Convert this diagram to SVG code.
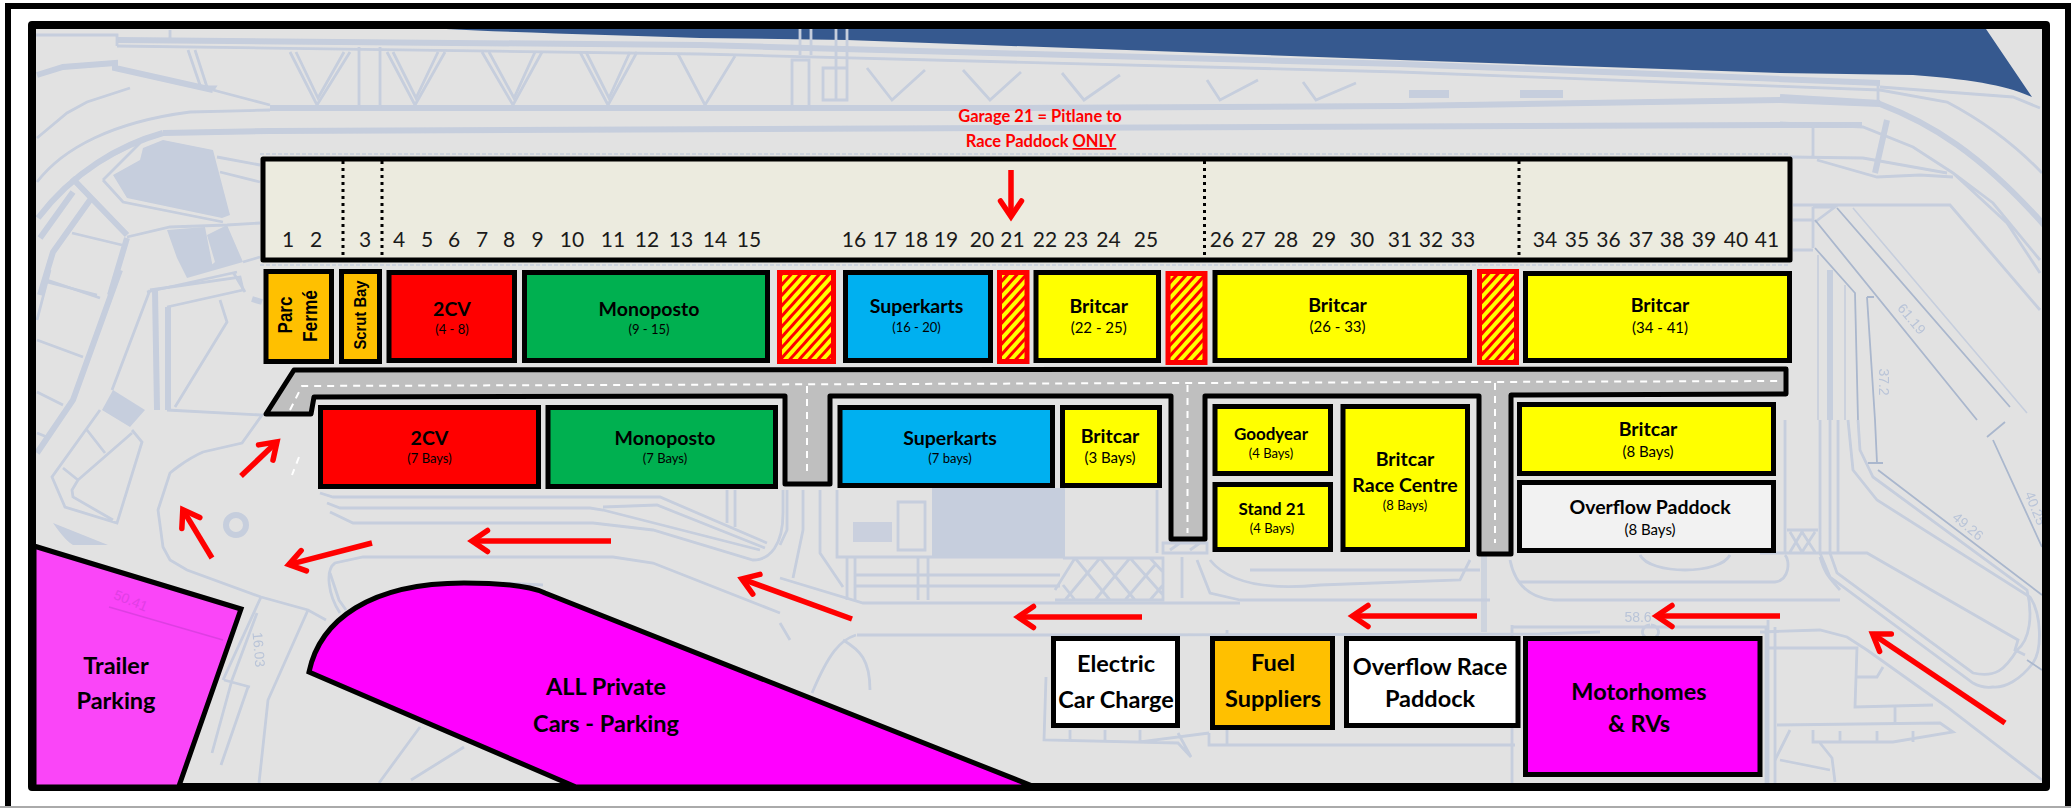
<svg xmlns="http://www.w3.org/2000/svg" width="2071" height="808" viewBox="0 0 2071 808">
<style>
.n{stroke:#000;stroke-width:5}
.t{font-family:Lato,"Liberation Sans",sans-serif;font-weight:700;fill:#000;text-anchor:middle}
.v{font-family:"Liberation Sans",Arial,sans-serif;font-weight:700;fill:#000;text-anchor:middle}
.l{font-size:19.5px}.s{font-size:13px;font-weight:400}.m{font-size:15px;font-weight:400}
.b{font-size:23.5px}.g{font-size:17px}
.num{font-family:Lato,"Liberation Sans",sans-serif;font-size:21px;fill:#1a1a1a;text-anchor:middle}
.red{font-family:Lato,"Liberation Sans",sans-serif;font-size:16.500px;font-weight:700;fill:#f00;text-anchor:middle}
.bp{fill:none;stroke:#c6cedd;stroke-width:2.800}
.bk{fill:none;stroke:#c6cedd;stroke-width:6}
.bt{fill:none;stroke:#c6cedd;stroke-width:1.600}
.bd{fill:none;stroke:#aab7cd;stroke-width:1.800}
.bf{fill:#c6cedd}
.dim{font-family:"Liberation Sans",Arial,sans-serif;font-size:14px;fill:#b9c4d8;text-anchor:middle}
.arr{fill:none;stroke:#f00;stroke-width:5.500;marker-end:url(#chev)}
.dot{stroke:#000;stroke-width:3;stroke-dasharray:3 4}
.dash{fill:none;stroke:#fff;stroke-width:2;stroke-dasharray:7 6}
.h{fill:url(#hatch);stroke:#f00;stroke-width:5}
</style>
<defs>
<pattern id="hatch" width="7" height="7" patternUnits="userSpaceOnUse" patternTransform="rotate(42)">
<rect width="7" height="7" fill="#ffff00"/><rect width="3" height="7" fill="#f00"/>
</pattern>
<marker id="chev" markerUnits="userSpaceOnUse" markerWidth="44" markerHeight="44" refX="30" refY="22" orient="auto" overflow="visible">
<path d="M14.500,11.500 L30,22 L14.500,32.500" fill="none" stroke="#f00" stroke-width="5.500" stroke-linecap="round"/>
</marker>
<filter id="soft" x="0" y="0" width="1" height="1"><feGaussianBlur stdDeviation="0.600"/></filter>
</defs>
<rect width="2071" height="808" fill="#fff"/>
<g id="frame-outer"><path d="M8,808 V6 H2068 V808" fill="none" stroke="#000" stroke-width="6"/><path d="M0,807 H2071" stroke="#aaa" stroke-width="2"/></g>
<g id="site-plan">
<rect x="32" y="25" width="2014" height="762" fill="#e2e2e2"/>
<path d="M446,29 H1986 L2032,97 C2010,87 1980,80 1913,75 L1780,73 L1400,60 L847,40 L700,38 C620,35 520,33 446,29Z" fill="#36598f"/>
<g filter="url(#soft)">
<path class="bk" d="M117,40 L700,45 L1400,64 L1880,83"/>
<path class="bp" d="M117,46 L700,54 L1400,72 L1880,90 L1947,102 C1987,123 2020,150 2042,173"/>
<path class="bp" d="M36,35 H117 V46 M170,30 V38 M1880,87 L2013,97 L2040,108"/>
<path class="bk" d="M270,108 L1000,108 L1400,106 L1780,100 L1880,104 C1930,123 1980,153 2044,225" stroke-width="8"/>
<path class="bk" d="M37,75 L63,67 L115,63 L115,68 L213,90" />
<path class="bp" d="M213,90 L270,105 M195,50 L207,87 H215 L213,90 M188,50 L201,88"/>
<path class="bp" d="M37,138 L67,113 L87,102 L130,88"/>
<path class="bp" d="M37,182 C63,148 113,122 190,112 L270,110"/>
<path class="bk" d="M163,133 C120,145 73,172 38,218" stroke-width="4"/>
<path class="bk" d="M163,133 L270,131 L1000,128 L1780,125 L1862,125" stroke-width="4.500"/>
<path class="bp" d="M217,157 L260,165 M220,172 L260,182 M103,180 L140,143 M103,180 L123,202 L223,222"/>
<path class="bk" d="M72,178 L127,235 M90,200 L53,252 L40,295" stroke-width="4"/>
<path class="bk" d="M73,192 L40,238" stroke-width="4"/>
<path class="bp" d="M72,233 L122,245 M47,282 L97,295 M127,237 L170,227 L227,225 L260,223"/>
<path class="bk" d="M127,238 L110,295 M120,270 L73,400 L37,453" stroke-width="5"/>
<path class="bp" d="M233,272 L245,292 M147,292 L237,272 M243,262 L260,257"/>
<path class="bp" d="M50,270 L37,320 M47,280 L100,298 M37,340 L83,357 M37,392 L63,405 M37,433 L47,437"/>
<path class="bp" d="M150,290 L240,277 L243,290 L167,307 M150,290 L112,390"/>
<path class="bk" d="M155,290 L157,410 M168,307 V410" stroke-width="5"/>
<path class="bp" d="M220,300 L227,322 L175,407 M167,410 L262,415 L242,443 L203,452 C185,460 170,473 170,473 L158,510 L163,547 L170,560 L187,570 L261,597 L308,610 L326,620"/>
<path class="bk" d="M252,299 L262,302"/>
<path class="bp" d="M100,410 L52,477 L65,507 L117,523 L142,442 L132,430 M87,430 L105,453 M63,468 L78,480 L132,433 M78,480 L72,490 L73,497 L113,520"/>
<ellipse cx="236" cy="525" rx="10" ry="10" class="bk" stroke-width="4"/>
<path class="bp" d="M261,597 L223,680 M308,610 L268,700 L259,783 M257,613 L232,680 L212,753 M248,687 L221,765 M224,680 L250,687 M379,783 L420,727 M411,780 L464,747 M330,573 L339,600 L346,610"/>
<path class="bp" d="M320,493 L333,497 H660 L767,543 M327,503 L340,508 H590 L603,510 L760,550 M603,507 L657,505 L765,548 M330,512 L353,523 H593 L653,530 L753,560 C770,560 783,545 783,513 V490"/>
<path class="bp" d="M340,613 C328,595 325,570 335,563 L363,557 H613 L653,563 L780,613 M727,490 V523 M735,490 V527 M503,583 L543,585"/>
<path class="bp" d="M820,490 V553 L843,587 M787,490 V530 L780,545 M803,490 V530 L793,578 M780,578 L863,603 H1240"/>
<path class="bp" d="M837,490 V557 H1063 M847,557 V600 M855,557 V600 M918,557 V600 M928,557 V600 M855,575 H1060 M855,586 H1060 M898,502 H925 V550 H898Z"/>
<path class="bp" d="M1063,558 H1163 V600 H1055 M1075,558 L1110,600 M1100,558 L1135,600 M1130,558 L1163,595 M1150,558 L1163,572 M1063,585 L1075,600 M1100,558 L1065,600 M1130,558 L1095,600 M1155,565 L1125,600 M1163,585 L1150,600 M1075,558 L1055,590"/>
<path class="bp" d="M1157,490 V553 M1163,543 H1207 V553 H1163Z M1170,550 L1180,543 M1190,550 L1200,543 M1182,557 V598 M1197,560 L1210,593 L1240,600"/>
<path class="bp" d="M780,623 L790,640 M843,640 C860,650 870,660 870,690 M857,635 H1090 L1540,634 L1600,632 M856,635 C840,640 829,653 812,693 M1046,677 L1044,740 L1178,743 L1191,757 L1178,733 M1070,730 V740 M1105,730 V742 M1140,730 V742 L1209,733 M1209,733 V745 H1515 M1227,630 V745 M1060,690 L1100,700"/>
<path class="bp" d="M1210,560 C1230,585 1270,590 1320,585 L1460,580 L1470,560 M1250,570 H1480 M1510,560 C1515,585 1530,598 1554,600 H1840 M1520,582 H1775 C1790,580 1790,560 1785,555 M1640,555 C1650,575 1720,575 1730,555 M1240,600 H1490"/>
<path class="bk" d="M1484,556 V632" stroke-width="10" opacity=".7"/>
<path class="bp" d="M1512,625 V785 M1512,627 H1766 V785 M1775,627 V785 M1512,785 H1530 M1650,625 A8,7 0 1,0 1651,625"/>
<path class="bp" d="M1785,420 V553 M1820,420 V553 M1830,420 V553 M1838,420 V553 M1787,530 H1818 M1790,552 L1802,532 L1815,552 M1790,532 L1802,552 L1815,532 M1760,553 H1867 L2018,640 L2015,650 L2025,655 M1820,557 C1825,575 1830,578 1840,590"/>
<path class="bp" d="M1848,420 L1853,470 L1877,500 L2030,597 C2042,615 2042,650 2033,663 C2020,680 2005,688 1993,687 C1985,688 1978,686 1973,683 L1830,577 L1820,553"/>
<path class="bp" d="M1858,420 L1860,450 L1873,477 L2027,590 C2033,615 2030,640 2017,650 C2005,670 1995,678 1973,673 L1837,573 L1830,553"/>
<path class="bd" d="M1875,420 L1877,463 M1868,463 H1883 M1878,470 L2042,595 M1993,440 L2042,547 M1987,437 L2005,422 M2027,660 L2042,670"/>
<path class="bp" d="M1760,632 L1820,630 L1847,637 L1867,650 L1947,707 L2042,780 M1767,648 H1857 L1855,707 L1933,705 M1857,677 H1877 L1883,667 M1895,707 V723 M1777,725 L1940,723 L1953,732 L1893,742 H1813 V730 M1840,731 V742 M1877,731 V742 M1913,731 V742 M1780,760 L1830,770 M1790,730 L1775,760 M1820,743 L1832,758 L1835,782 M1768,620 V785"/>
<path class="bk" d="M1780,97 L1880,103" stroke-width="8"/>
<path class="bp" d="M1780,123 L1863,127 L1913,147 L1953,173 L1993,203 L2040,260 M1953,173 L2007,223 L2040,273 M1878,80 V103 M1813,123 V157 M1790,157 L1863,158 L1947,173 M1817,160 L1877,177 L1920,175 L1953,177 M1793,205 H1950 L2040,310 M1793,220 H1813 M1793,250 H1813 M1813,207 H1835 L1815,222 M1813,207 V248"/>
<path class="bk" d="M1887,120 L1875,173" stroke-width="5"/>
<path class="bd" d="M1837,208 L2010,407 M1815,220 L1977,420 M1815,248 L1855,293 L1858,420 M1867,297 L1875,420 M1867,297 H1874"/>
<path class="bt" d="M1853,208 L2027,413 M1818,255 V420 M1845,285 V420"/>
<path class="bk" d="M1830,270 V420" stroke-width="4"/>
<path class="bp" d="M290,52 L317,105 L350,52 M387,52 L415,105 L445,52 M482,52 L513,105 L542,52 M580,52 L608,105 L637,52 M678,54 L705,105 L735,56"/>
<path class="bp" d="M867,68 L892,100 L925,70 M963,70 L990,100 L1021,72 M1062,73 L1084,100 L1120,75 M1207,80 L1220,100 L1258,80 M1303,82 L1316,100 L1356,83"/>
<path class="bp" d="M296,52 L318,98 L344,52 M393,52 L416,98 L438,52 M489,52 L514,98 L535,52 M586,52 L609,98 L630,52"/>
<path class="bp" d="M359,47 V108 M380,47 V108 M792,60 H809 V108 H792Z M823,68 H847 V100 H823Z M800,29 V55 M811,29 V55 M836,29 V100 M847,29 V100"/>
<path class="bt" d="M260,154 H1790 M260,265 H1790" stroke-width="3" stroke-dasharray="4 2"/>
<path class="bf" d="M1409,90 H1449 V98 H1409Z M1520,90 H1563 V98 H1520Z"/>
<path class="bf" d="M113,175 L140,160 L143,148 L163,140 L213,150 L230,215 L222,218 L127,198Z"/>
<path class="bf" d="M167,230 L205,227 L213,268 L206,270 L215,262 L207,235 L227,225 L243,262 L187,278 L177,258Z"/>
<path class="bf" d="M932,488 H1065 V558 H932Z"/>
<path class="bf" d="M853,522 H892 V542 H853Z" opacity=".85"/>
<path class="bf" d="M113,390 L145,410 L130,427 L102,410Z"/>
<path class="bf" d="M53,523 L108,545 L73,545 C65,540 58,530 53,523Z"/>
<text class="dim" transform="translate(1908 322) rotate(50)">61.19</text>
<text class="dim" transform="translate(1879 382) rotate(90)">37.2</text>
<text class="dim" transform="translate(1965 530) rotate(40)">49.26</text>
<text class="dim" transform="translate(2031 510) rotate(68)">40.25</text>
<text class="dim" transform="translate(254 650) rotate(85)">16.03</text>
<text class="dim" x="1638" y="622">58.6</text>
</g>
</g>
<g id="frame-inner"><rect x="32" y="25" width="2014" height="762" fill="none" stroke="#000" stroke-width="8" stroke-linejoin="round"/></g>
<g id="garage-strip">
<rect x="263" y="159" width="1527" height="101" fill="#ecebdf" stroke="#000" stroke-width="5" stroke-linejoin="round"/>
<path class="dot" d="M343,161 V258 M382,161 V258 M1204.500,161 V258 M1519,161 V258"/>
<g class="num">
<text x="288" y="247">1</text><text x="316" y="247">2</text><text x="365" y="247">3</text><text x="399" y="247">4</text><text x="427" y="247">5</text><text x="454" y="247">6</text><text x="482" y="247">7</text><text x="509" y="247">8</text><text x="537.500" y="247">9</text><text x="572" y="247">10</text><text x="613" y="247">11</text><text x="647" y="247">12</text><text x="681" y="247">13</text><text x="715" y="247">14</text><text x="749" y="247">15</text><text x="854" y="247">16</text><text x="885" y="247">17</text><text x="916" y="247">18</text><text x="946" y="247">19</text><text x="982" y="247">20</text><text x="1012.500" y="247">21</text><text x="1045" y="247">22</text><text x="1076" y="247">23</text><text x="1108.500" y="247">24</text><text x="1146" y="247">25</text><text x="1222" y="247">26</text><text x="1253.500" y="247">27</text><text x="1286" y="247">28</text><text x="1324" y="247">29</text><text x="1362" y="247">30</text><text x="1400" y="247">31</text><text x="1431" y="247">32</text><text x="1463" y="247">33</text><text x="1545" y="247">34</text><text x="1577" y="247">35</text><text x="1608.500" y="247">36</text><text x="1641" y="247">37</text><text x="1672" y="247">38</text><text x="1704" y="247">39</text><text x="1736" y="247">40</text><text x="1767" y="247">41</text>
</g>
</g>
<g id="garage-note">
<text class="red" x="1040" y="122">Garage 21 = Pitlane to</text>
<text class="red" x="1041" y="147">Race Paddock <tspan text-decoration="underline">ONLY</tspan></text>
</g>
<g id="access-road">
<path d="M294,370 L1786,369 V394 L1511,395 V554 H1479 V396 H1205 V539 H1171 V396 H830 V484 H785 V396 L314,397 L311,414 L266,414Z" fill="#bfbfbf" stroke="#000" stroke-width="5" stroke-linejoin="round"/>
<path class="dash" d="M290,410 L302,386 L1782,381 M807,386 V477 M1187.500,385 V533 M1495,383 V543 M299,457 L292,475"/>
</g>
<g id="parc-ferme"><rect x="266" y="271.500" width="65.500" height="90" fill="#ffc000" class="n"/><text class="v" style="font-size:20.500px" textLength="37" lengthAdjust="spacingAndGlyphs" transform="translate(292 315) rotate(-90)">Parc</text><text class="v" style="font-size:20.500px" textLength="52" lengthAdjust="spacingAndGlyphs" transform="translate(317 316) rotate(-90)">Fermé</text></g>
<g id="scrut-bay"><rect x="341.500" y="271.500" width="38" height="90" fill="#ffc000" class="n"/><text class="v" style="font-size:17px" textLength="69" lengthAdjust="spacingAndGlyphs" transform="translate(366 315) rotate(-90)">Scrut Bay</text></g>
<g id="cv-top"><rect x="389" y="272.500" width="125.500" height="88" fill="#f00" class="n"/><text class="t l" x="452" y="316">2CV</text><text class="t s" x="452" y="334">(4 - 8)</text></g>
<g id="mono-top"><rect x="524.500" y="272.500" width="243" height="88" fill="#00b050" class="n"/><text class="t l" x="649" y="316">Monoposto</text><text class="t s" x="649" y="334">(9 - 15)</text></g>
<g id="closed-1"><rect x="779.500" y="272.500" width="54" height="89" class="h"/></g>
<g id="super-top"><rect x="845.500" y="272.500" width="145" height="88" fill="#00b0f0" class="n"/><text class="t l" x="916.500" y="313">Superkarts</text><text class="t s" x="916.500" y="332">(16 - 20)</text></g>
<g id="closed-2"><rect x="999.500" y="272.500" width="27.500" height="89" class="h"/></g>
<g id="brit-22"><rect x="1036" y="272.500" width="122.500" height="88" fill="#ff0" class="n"/><text class="t l" x="1098.700" y="313">Britcar</text><text class="t m" x="1098.700" y="333">(22 - 25)</text></g>
<g id="closed-3"><rect x="1168" y="273.500" width="37" height="89" class="h"/></g>
<g id="brit-26"><rect x="1215" y="272.500" width="254.500" height="88" fill="#ff0" class="n"/><text class="t l" x="1337.500" y="312">Britcar</text><text class="t m" x="1337.500" y="332">(26 - 33)</text></g>
<g id="closed-4"><rect x="1479.500" y="271.500" width="37" height="91" class="h"/></g>
<g id="brit-34"><rect x="1525.500" y="273.500" width="264" height="87" fill="#ff0" class="n"/><text class="t l" x="1660" y="312">Britcar</text><text class="t m" x="1660" y="332.500">(34 - 41)</text></g>
<g id="cv-low"><rect x="320.500" y="407.500" width="218" height="79" fill="#f00" class="n"/><text class="t l" x="429.500" y="445">2CV</text><text class="t s" x="429.500" y="463">(7 Bays)</text></g>
<g id="mono-low"><rect x="548" y="407.500" width="227.500" height="79" fill="#00b050" class="n"/><text class="t l" x="665" y="445">Monoposto</text><text class="t s" x="665" y="463">(7 Bays)</text></g>
<g id="super-low"><rect x="840" y="407.500" width="212.500" height="78" fill="#00b0f0" class="n"/><text class="t l" x="950" y="445">Superkarts</text><text class="t s" x="950" y="463">(7 bays)</text></g>
<g id="brit-3"><rect x="1062.500" y="407.500" width="97" height="78" fill="#ff0" class="n"/><text class="t l" x="1110" y="443">Britcar</text><text class="t m" x="1110" y="463">(3 Bays)</text></g>
<g id="goodyear"><rect x="1215" y="406.500" width="115.500" height="67" fill="#ff0" class="n"/><text class="t g" x="1271" y="440">Goodyear</text><text class="t s" x="1271" y="458">(4 Bays)</text></g>
<g id="stand-21"><rect x="1215" y="484.500" width="115.500" height="65" fill="#ff0" class="n"/><text class="t g" x="1272" y="515">Stand 21</text><text class="t s" x="1272" y="533">(4 Bays)</text></g>
<g id="race-centre"><rect x="1343" y="406.500" width="124.500" height="143" fill="#ff0" class="n"/><text class="t l" x="1405" y="466">Britcar</text><text class="t l" x="1405" y="492">Race Centre</text><text class="t s" x="1405" y="510">(8 Bays)</text></g>
<g id="brit-8"><rect x="1519.500" y="404.500" width="254" height="69" fill="#ff0" class="n"/><text class="t l" x="1648" y="436">Britcar</text><text class="t m" x="1648" y="457">(8 Bays)</text></g>
<g id="overflow-paddock"><rect x="1519.500" y="482.500" width="254" height="68" fill="#f2f2f2" class="n"/><text class="t l" x="1650" y="514">Overflow Paddock</text><text class="t m" x="1650" y="535">(8 Bays)</text></g>
<g id="electric"><rect x="1053.500" y="638.500" width="124" height="87" fill="#fff" class="n"/><text class="t b" x="1116" y="672">Electric</text><text class="t b" x="1116" y="708">Car Charge</text></g>
<g id="fuel"><rect x="1212.500" y="638.500" width="120" height="89" fill="#ffc000" class="n"/><text class="t b" x="1273" y="671">Fuel</text><text class="t b" x="1273" y="707">Suppliers</text></g>
<g id="overflow-race"><rect x="1346.500" y="638.500" width="171.500" height="87" fill="#fff" class="n"/><text class="t b" x="1430" y="675">Overflow Race</text><text class="t b" x="1430" y="707">Paddock</text></g>
<g id="motorhomes"><rect x="1525.500" y="638.500" width="234.500" height="136" fill="#f0f" class="n"/><text class="t b" x="1639" y="700">Motorhomes</text><text class="t b" x="1639" y="732">&amp; RVs</text></g>
<g id="trailer"><path d="M34,546 L241,609 L178.600,787 H34Z" fill="#fa45f8" class="n"/><path d="M109,607 L223,640" stroke="#dd3fe2" stroke-width="1.500"/><text x="129" y="605" transform="rotate(22 129 605)" style="font:14px 'Liberation Sans',sans-serif;fill:#e03ee4;text-anchor:middle">50.41</text><text class="t b" x="116" y="674">Trailer</text><text class="t b" x="116" y="709">Parking</text></g>
<g id="private-cars"><path d="M309,672 C320,620 370,583 464,583 C500,583 530,586 545,593 L1035,787 H576Z" fill="#f0f" class="n"/><text class="t b" x="606" y="695">ALL Private</text><text class="t b" x="606" y="732">Cars - Parking</text></g>
<g id="connectors">
<path class="arr" d="M1011,170 V216.500"/>
<path class="arr" d="M241,476 L277,441.800"/>
<path class="arr" d="M212,558 L182.800,509.700"/>
<path class="arr" d="M372,543 L288.800,564.600"/>
<path class="arr" d="M611,541 H472"/>
<path class="arr" d="M852,619 L741.800,578.900"/>
<path class="arr" d="M1142,617 H1018"/>
<path class="arr" d="M1477,616 H1352.500"/>
<path class="arr" d="M1780,616 H1656.500"/>
<path class="arr" d="M2005,723 L1872.600,634"/>
</g>
</svg>
